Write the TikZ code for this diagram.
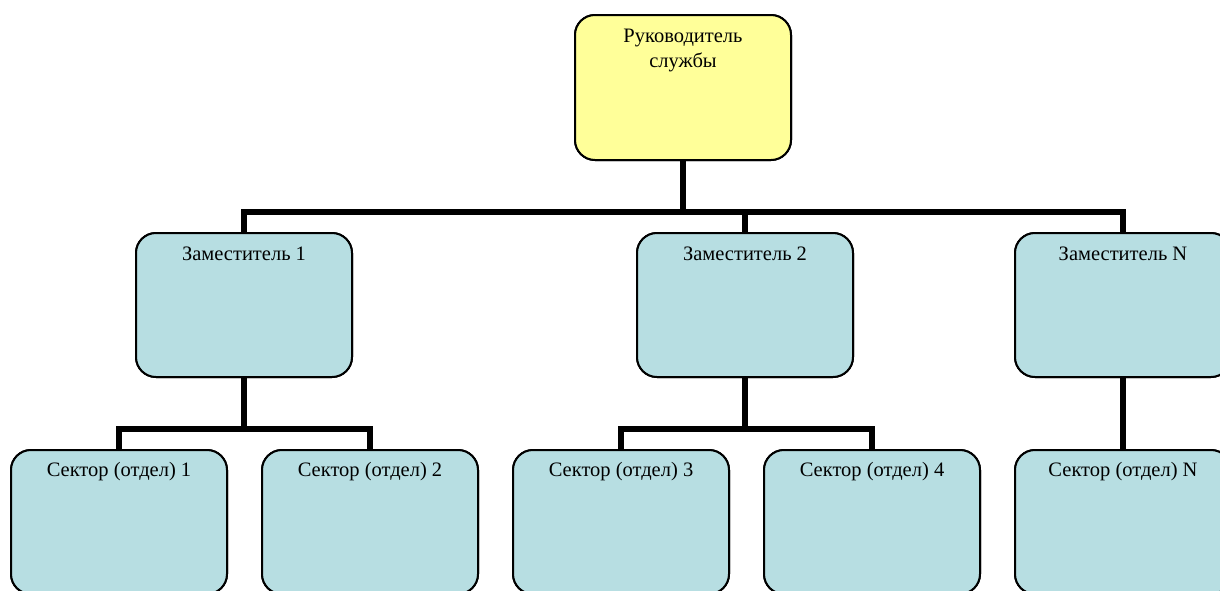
\documentclass[tikz,border=0pt]{standalone}
\usepackage{fontspec}
\setmainfont{Liberation Serif}
\definecolor{boxblue}{RGB}{183,222,226}
\definecolor{boxyellow}{RGB}{255,255,153}
\tikzset{
  orgbox/.style={draw=black, line width=2pt, rounded corners=20pt, minimum width=216pt, minimum height=144pt, inner sep=0pt, fill=boxblue},
  headbox/.style={orgbox, fill=boxyellow, minimum height=145pt},
  boxtext/.style={anchor=base, align=center, inner sep=0pt, font=\fontsize{20.5}{25}\selectfont},
  conn/.style={line width=6pt, line join=miter}
}
\begin{document}
\begin{tikzpicture}[x=1pt,y=-1pt]
\useasboundingbox (0,0) rectangle (1220,590);
\node[headbox] (top) at (683,87.5) {};
\node[orgbox] (z1) at (244,305) {};
\node[orgbox] (z2) at (745,305) {};
\node[orgbox] (zN) at (1123,305) {};
\node[orgbox] (s1) at (119,522) {};
\node[orgbox] (s2) at (370,522) {};
\node[orgbox] (s3) at (621,522) {};
\node[orgbox] (s4) at (872,522) {};
\node[orgbox] (sN) at (1123,522) {};
\draw[conn] (top.south) -- ++(0,51) -| (z1.north);
\draw[conn] (top.south) -- ++(0,51) -| (z2.north);
\draw[conn] (top.south) -- ++(0,51) -| (zN.north);
\draw[conn] (z1.south) -- ++(0,51) -| (s1.north);
\draw[conn] (z1.south) -- ++(0,51) -| (s2.north);
\draw[conn] (z2.south) -- ++(0,51) -| (s3.north);
\draw[conn] (z2.south) -- ++(0,51) -| (s4.north);
\draw[conn] (zN.south) -- (sN.north);
\node[headbox] at (top) {};
\foreach \n in {z1,z2,zN,s1,s2,s3,s4,sN} {\node[orgbox] at (\n) {};}
\node[boxtext] (ttop) at ([yshift=-28pt]top.north) {Руководитель};
\node[boxtext] (ttop2) at ([yshift=-53pt]top.north) {службы};
\node[boxtext] (tz1) at ([yshift=-28pt]z1.north) {Заместитель 1};
\node[boxtext] (tz2) at ([yshift=-28pt]z2.north) {Заместитель 2};
\node[boxtext] (tzN) at ([yshift=-28pt]zN.north) {Заместитель N};
\node[boxtext] (ts1) at ([yshift=-27pt]s1.north) {Сектор (отдел) 1};
\node[boxtext] (ts2) at ([yshift=-27pt]s2.north) {Сектор (отдел) 2};
\node[boxtext] (ts3) at ([yshift=-27pt]s3.north) {Сектор (отдел) 3};
\node[boxtext] (ts4) at ([yshift=-27pt]s4.north) {Сектор (отдел) 4};
\node[boxtext] (tsN) at ([yshift=-27pt]sN.north) {Сектор (отдел) N};
\end{tikzpicture}
\end{document}
